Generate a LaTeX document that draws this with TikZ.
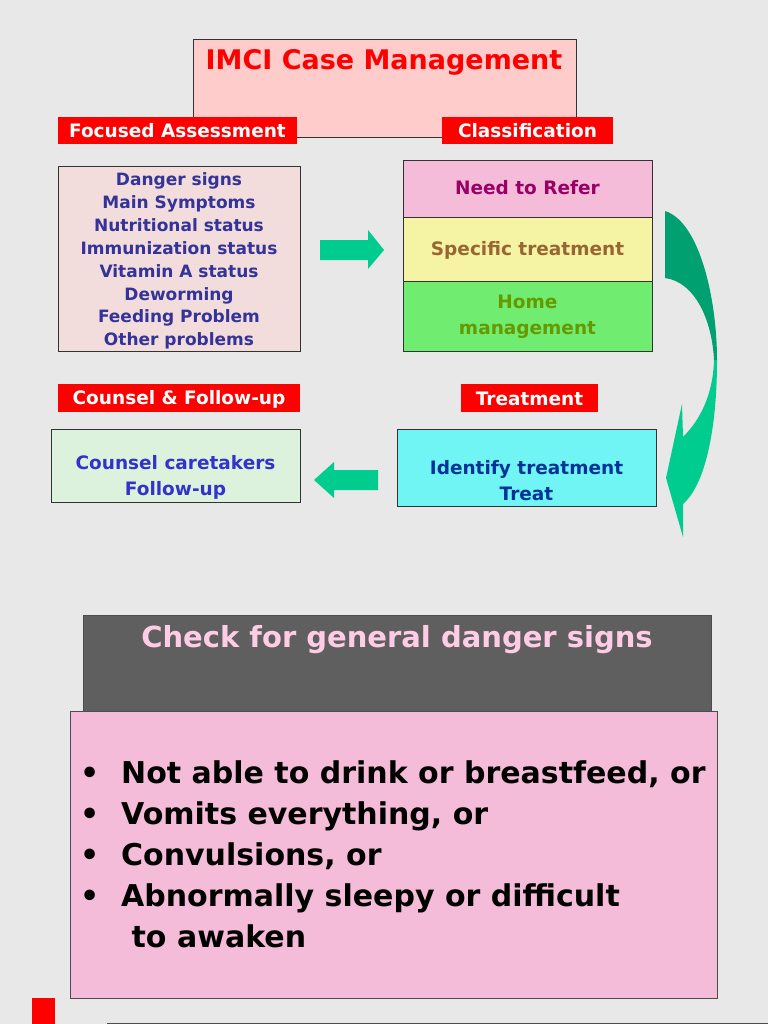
\documentclass[tikz,border=0pt]{standalone}
\usepackage{fontspec}
\setmainfont{DejaVu Sans}
\begin{document}
\begin{tikzpicture}[x=1pt,y=-1pt,
  lbl/.style={fill=red,text=white,font=\bfseries\fontsize{18.5}{20}\selectfont,inner sep=0pt},
  bx/.style={draw=black!80,line width=0.8pt},
  tx/.style={font=\bfseries\fontsize{18.5}{22}\selectfont,align=center}]
\useasboundingbox[fill={rgb,255:red,232;green,232;blue,232}] (0,0) rectangle (768,1024);
\definecolor{arr}{RGB}{0,204,144}
\definecolor{arrd}{RGB}{0,160,112}
% title
\draw[bx,fill={rgb,255:red,255;green,204;blue,204}] (193,39) rectangle (576,137);
\node[text=red,font=\bfseries\fontsize{27}{30}\selectfont] (title) at (384,62) {IMCI Case Management};
% labels
\fill[red] (58,117) rectangle (297,144); \node[lbl] (fa) at (177.5,131) {Focused Assessment};
\fill[red] (442,117) rectangle (613,144); \node[lbl] (cl) at (527.5,131) {Classification};
\fill[red] (58,384) rectangle (300,412); \node[lbl] (cf) at (179,399) {Counsel \& Follow-up};
\fill[red] (461,384) rectangle (598,412); \node[lbl] (tr) at (529.5,399) {Treatment};
% list
\draw[bx,fill={rgb,255:red,242;green,220;blue,220}] (58,166) rectangle (300,351);
\node[tx,text={rgb,255:red,51;green,51;blue,153},font=\bfseries\fontsize{17}{22.9}\selectfont] (list) at (179,261) {Danger signs\\Main Symptoms\\Nutritional status\\Immunization status\\Vitamin A status\\Deworming\\Feeding Problem\\Other problems};
% arrow right
\fill[arr] (320,240) -- (368,240) -- (368,230) -- (384,250) -- (368,269) -- (368,260) -- (320,260) -- cycle;
% classification stack
\draw[bx,fill={rgb,255:red,244;green,188;blue,216}] (403,160) rectangle (652,217);
\node[tx,text={rgb,255:red,153;green,0;blue,102}] (nr) at (527.5,188) {Need to Refer};
\draw[bx,fill={rgb,255:red,244;green,244;blue,164}] (403,217) rectangle (652,281);
\node[tx,text={rgb,255:red,153;green,102;blue,51}] (st) at (527.5,250) {Specific treatment};
\draw[bx,fill={rgb,255:red,112;green,236;blue,112}] (403,281) rectangle (652,351);
\node[tx,text={rgb,255:red,102;green,153;blue,0},font=\bfseries\fontsize{18.5}{26}\selectfont] (hm) at (527.5,317) {Home\\management};
% curved arrow
\fill[arrd] (665,211) .. controls (700,222) and (717,300) .. (717,360) -- (714,360) .. controls (712,320) and (695,282) .. (665,278) -- cycle;
\fill[arr] (717,360) .. controls (717,430) and (705,485) .. (683,504) -- (683,537) -- (666,478) -- (682,404) -- (683,437) .. controls (700,420) and (713,395) .. (714,360) -- cycle;
% counsel
\draw[bx,fill={rgb,255:red,221;green,242;blue,221}] (51,429) rectangle (300,502);
\node[tx,text={rgb,255:red,51;green,51;blue,204},font=\bfseries\fontsize{18.5}{26}\selectfont] (cc) at (175.5,477) {Counsel caretakers\\Follow-up};
\fill[arr] (378,470) -- (334,470) -- (334,462) -- (314,480) -- (334,498) -- (334,490) -- (378,490) -- cycle;
\draw[bx,fill={rgb,255:red,112;green,244;blue,244}] (397,429) rectangle (656,506);
\node[tx,text={rgb,255:red,0;green,51;blue,153},font=\bfseries\fontsize{18.5}{26}\selectfont] (it) at (526.5,481) {Identify treatment\\Treat};
% bottom
\draw[draw=black!70,fill={rgb,255:red,95;green,95;blue,95}] (83,615) rectangle (711,713);
\node[text={rgb,255:red,255;green,204;blue,230},font=\bfseries\fontsize{29}{32}\selectfont] (chk) at (397,640) {Check for general danger signs};
\draw[draw=black!70,fill={rgb,255:red,244;green,188;blue,216}] (70,711) rectangle (717,998);
\node[anchor=north west,align=left,font=\bfseries\fontsize{30}{41}\selectfont,inner sep=0pt] (bl) at (80,760) {%
\makebox[41pt][l]{•}Not able to drink or breastfeed, or\\
\makebox[41pt][l]{•}Vomits everything, or\\
\makebox[41pt][l]{•}Convulsions, or\\
\makebox[41pt][l]{•}Abnormally sleepy or difficult\\
\hspace*{41pt} to awaken};
\fill[red] (32,998) rectangle (55,1024);
\draw[black!70,line width=0.8pt] (107,1023) -- (768,1023);
\end{tikzpicture}
\end{document}
